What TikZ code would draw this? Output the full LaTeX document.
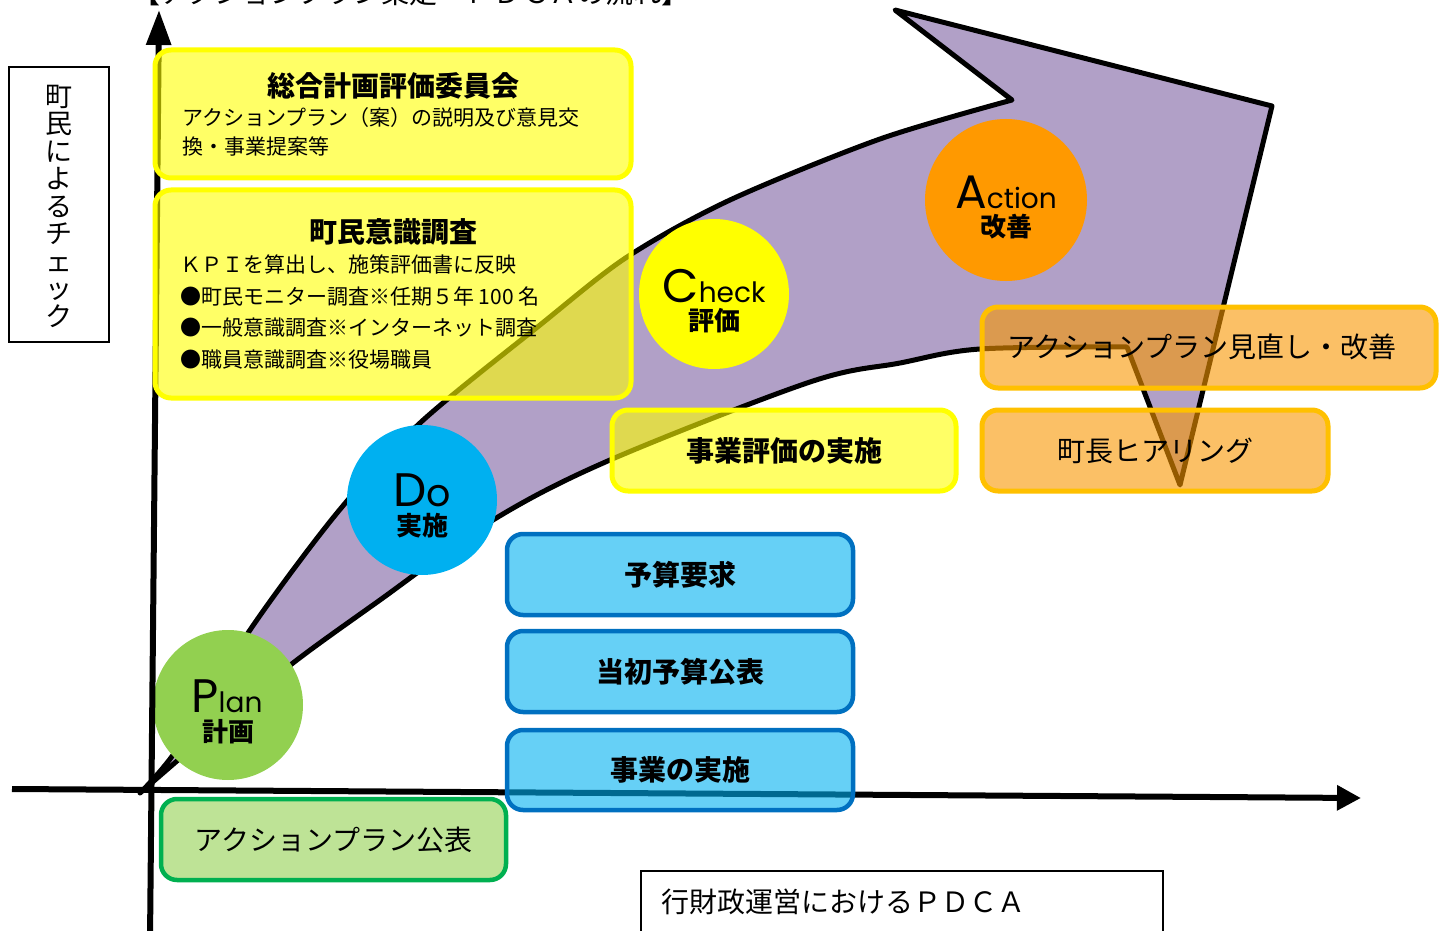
\documentclass[tikz,border=0pt]{standalone}
\usepackage{fontspec}
\setmainfont{Noto Sans CJK JP}
\newfontfamily\latinf{Poppins}
\usetikzlibrary{arrows.meta}
\definecolor{purp}{HTML}{B1A0C7}
\definecolor{ybd}{HTML}{FFFF00}
\definecolor{yfl}{HTML}{FFFF00}
\definecolor{obd}{HTML}{FFC000}
\definecolor{ofl}{HTML}{F89600}
\definecolor{bbd}{HTML}{0070C0}
\definecolor{bfl}{HTML}{00B0F0}
\definecolor{gbd}{HTML}{00B050}
\definecolor{gfl}{HTML}{92D050}
\definecolor{cplan}{HTML}{92D050}
\definecolor{cdo}{HTML}{00B0F0}
\definecolor{ccheck}{HTML}{FFFF00}
\definecolor{caction}{HTML}{FF9900}
\newcommand\fszT{\fontsize{28pt}{32pt}\selectfont}
\newcommand\fszB{\fontsize{28pt}{32pt}\selectfont}
\newcommand\fszS{\fontsize{21pt}{26pt}\selectfont}
\newcommand\fszC{\fontsize{26pt}{28pt}\selectfont\bfseries}
\newcommand\bigL[1]{{\latinf\fontsize{47pt}{47pt}\selectfont #1}}
\newcommand\smL[1]{{\latinf\fontsize{28pt}{28pt}\selectfont #1}}
\begin{document}
\begin{tikzpicture}[x=1pt,y=-1pt,
  box/.style={rounded corners=16pt, line width=5pt, fill opacity=0.6, text opacity=1, draw opacity=1, inner sep=0, font=\fszB},
  ybox/.style={box, draw=ybd, fill=yfl},
  obox/.style={box, draw=obd, fill=ofl},
  bbox/.style={box, line width=4.5pt, draw=bbd, fill=bfl},
  gbox/.style={box, line width=4.5pt, draw=gbd, fill=gfl},
  phase/.style={circle, inner sep=0, minimum size=150pt},
  lbl/.style={inner sep=0},
  word/.style={inner sep=0, anchor=base, text depth=0pt},
  jlbl/.style={inner sep=0, anchor=base, font=\fszC, text height=19pt, text depth=0pt},
  axis/.style={line width=6pt, -{Triangle[length=24pt,width=24pt]}},
]
\useasboundingbox (0,0) rectangle (1441,931);
\clip (0,0) rectangle (1441,931);

% title (mostly cut off)
\node[lbl, anchor=base, font=\fszT] (title) at (411,4) {【アクションプラン策定　ＰＤＣＡの流れ】};

% big curved arrow
\draw[line width=5pt, line join=round, fill=purp]
  plot[smooth, tension=0.5] coordinates {(140,793) (178,748) (250,630) (337,513) (420,423) (540,325) (627,257) (730,200) (880,139) (1012,100)}
  -- (895,10) -- (1272,106) -- (1180,485) -- (1127,347)
  -- plot[smooth, tension=0.55] coordinates {(1127,347) (980,349) (900,363) (810,382) (610,460) (493,520) (380,600) (293,663) (220,724) (140,793)}
  -- cycle;

% phase circles
\node[phase, fill=cplan] (plan) at (228,705) {};
\node[phase, fill=cdo] (do) at (422,500) {};
\node[phase, fill=ccheck] (check) at (714,294) {};
\node[phase, fill=caction, minimum size=162pt] (action) at (1006,200) {};

\node[word] (planw) at (227,712) {\bigL{P}\smL{lan}};
\node[jlbl] (planj) at (228,741) {計画};
\node[word] (dow) at (422,506) {\bigL{D}{\latinf\fontsize{38pt}{38pt}\selectfont o}};
\node[jlbl] (doj) at (422,535) {実施};
\node[word] (checkw) at (714,302) {\bigL{C}\smL{heck}};
\node[jlbl] (checkj) at (714,330) {評価};
\node[word] (actionw) at (1006,208) {\bigL{A}\smL{ction}};
\node[jlbl] (actionj) at (1006,236) {改善};

% axes
\coordinate (o1) at (150,940);
\coordinate (ytip) at (159,10);
\coordinate (o2) at (12,789);
\coordinate (xtip) at (1361,798);
\draw[axis, -{Triangle[length=35pt,width=24pt]}] (o1) -- (ytip);
\draw[axis] (o2) -- (xtip);

% left vertical label
\node[draw, line width=2.5pt, minimum width=100pt, minimum height=275pt, inner sep=0] (vbox) at (59,204.5) {};
\node[lbl, align=center, font=\fontsize{27pt}{27.5pt}\selectfont] (vtext) at (59,206) {町\\民\\に\\よ\\る\\チ\\ェ\\ッ\\ク};

% yellow boxes
\node[ybox, minimum width=476pt, minimum height=128pt] (b1) at (393,114) {};
\node[lbl, font=\fszB\bfseries] (b1t) at (393,86) {総合計画評価委員会};
\node[lbl, anchor=west, font=\fszS] (b1a) at (182,118) {アクションプラン（案）の説明及び意見交};
\node[lbl, anchor=west, font=\fszS] (b1b) at (182,146) {換・事業提案等};

\node[ybox, minimum width=476pt, minimum height=208pt] (b2) at (393,294) {};
\node[lbl, font=\fszB\bfseries] (b2t) at (393,232) {町民意識調査};
\node[lbl, anchor=west, font=\fszS] (b2a) at (180,264) {ＫＰＩを算出し、施策評価書に反映};
\node[lbl, anchor=west, font=\fszS] (b2b) at (180,297) {●町民モニター調査※任期５年 100 名};
\node[lbl, anchor=west, font=\fszS] (b2c) at (180,328) {●一般意識調査※インターネット調査};
\node[lbl, anchor=west, font=\fszS] (b2d) at (180,360) {●職員意識調査※役場職員};

\node[ybox, minimum width=344pt, minimum height=81pt, font=\fszB\bfseries] (eval) at (784,450.5) {事業評価の実施};

% orange boxes
\node[obox, minimum width=454pt, minimum height=81pt] (rev) at (1209,347.5) {};
\node[lbl, font=\fszB] (revt) at (1202,347) {アクションプラン見直し・改善};
\node[obox, minimum width=346pt, minimum height=81pt] (hear) at (1155,450.5) {町長ヒアリング};

% blue boxes
\node[bbox, minimum width=346pt, minimum height=81pt, font=\fszB\bfseries] (budget) at (680,574.5) {予算要求};
\node[bbox, minimum width=346pt, minimum height=81pt, font=\fszB\bfseries] (pub) at (680,671.5) {当初予算公表};
\node[bbox, minimum width=346pt, minimum height=80pt, font=\fszB\bfseries] (exec) at (680,770) {事業の実施};

% green box
\node[gbox, minimum width=345pt, minimum height=81pt] (apub) at (333.5,839.5) {アクションプラン公表};

% bottom label
\node[draw, line width=2.5pt, minimum width=522pt, minimum height=70pt, inner sep=0] (pdca) at (902,906) {};
\node[lbl, anchor=west, font=\fszB] (pdcat) at (661,902) {行財政運営におけるＰＤＣＡ};
\end{tikzpicture}
\end{document}
